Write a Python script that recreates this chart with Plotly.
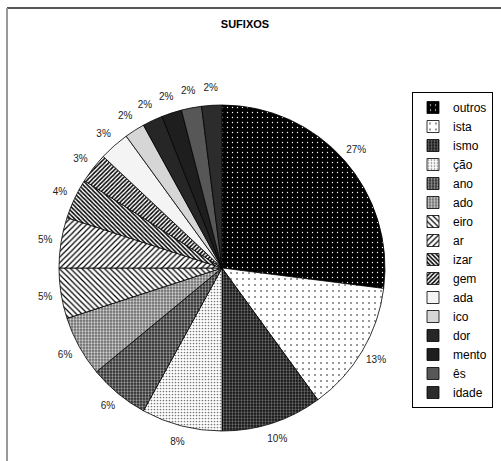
import plotly.graph_objects as go

labels = ["outros", "ista", "ismo", "ção", "ano", "ado", "eiro", "ar", "izar", "gem",
          "ada", "ico", "dor", "mento", "ês", "idade"]
values = [27, 13, 10, 8, 6, 6, 5, 5, 4, 3, 3, 2, 2, 2, 2, 2]

shapes_p = [".", ".", ".", ".", ".", ".", "\\", "/", "\\", "/", "", "", "", "", "", ""]
bgcols = ["#000000", "#ffffff", "#111111", "#ffffff", "#2a2a2a", "#6a6a6a", "#ffffff", "#ffffff",
          "#ffffff", "#ffffff", "#f4f4f4", "#d6d6d6", "#262626", "#1e1e1e", "#575757", "#2c2c2c"]
fgcols = ["#ffffff", "#000000", "#6a6a6a", "#777777", "#9a9a9a", "#d0d0d0", "#000000", "#000000",
          "#000000", "#000000", "#f4f4f4", "#d6d6d6", "#262626", "#1e1e1e", "#575757", "#2c2c2c"]
psize = [5, 6, 3, 3, 3, 3, 4, 4, 3, 3, 6, 6, 6, 6, 6, 6]
psolid = [0.06, 0.05, 0.45, 0.25, 0.45, 0.45, 0.3, 0.3, 0.5, 0.5, 0.3, 0.3, 0.3, 0.3, 0.3, 0.3]

W, H = 501, 461
cx, cy, r = 222, 268, 163
rl_out, rl_in = 192, 166

fig = go.Figure()
fig.add_trace(go.Pie(
    labels=labels, values=values, sort=False, direction="clockwise", rotation=0,
    textinfo="none", hoverinfo="label+percent",
    domain=dict(x=[(cx - r) / W, (cx + r) / W], y=[1 - (cy + r) / H, 1 - (cy - r) / H]),
    marker=dict(colors=bgcols, line=dict(color="#000000", width=0.8),
                pattern=dict(shape=shapes_p, bgcolor=bgcols, fgcolor=fgcols,
                             size=psize, solidity=psolid, fillmode="replace")),
))
fig.add_trace(go.Pie(
    labels=labels, values=values, sort=False, direction="clockwise", rotation=0,
    showlegend=False, hoverinfo="skip", hole=rl_in / rl_out,
    textinfo="percent", texttemplate="%{percent:.0%}", textposition="inside",
    insidetextorientation="horizontal",
    insidetextfont=dict(family="Liberation Sans, Arial", size=10, color="#222222"),
    domain=dict(x=[(cx - rl_out) / W, (cx + rl_out) / W],
                y=[max(0, 1 - (cy + rl_out) / H), 1 - (cy - rl_out) / H]),
    marker=dict(colors=["rgba(0,0,0,0)"] * len(labels), line=dict(width=0)),
))

fig.update_layout(
    width=W, height=H, margin=dict(l=0, r=0, t=0, b=0),
    paper_bgcolor="white", plot_bgcolor="white",
    font=dict(family="Liberation Sans, Arial", color="#000000"),
    uniformtext=dict(minsize=10, mode="show"),
    title=dict(text="<b>SUFIXOS</b>", x=245 / W, y=1 - 24 / H, xanchor="center", yanchor="middle",
               font=dict(size=11, family="Liberation Sans, Arial", color="#000000")),
    legend=dict(x=493 / W, y=1 - 92 / H, xanchor="right", yanchor="top",
                bordercolor="#000000", borderwidth=1, bgcolor="white",
                font=dict(size=12, family="Liberation Sans, Arial", color="#000000"),
                itemwidth=30, traceorder="normal"),
    shapes=[
        dict(type="line", xref="paper", yref="paper", x0=7 / W, x1=1, y0=1 - 8 / H, y1=1 - 8 / H,
             line=dict(color="#555555", width=2)),
        dict(type="line", xref="paper", yref="paper", x0=7 / W, x1=7 / W, y0=0, y1=1 - 8 / H,
             line=dict(color="#999999", width=2)),
    ],
)

fig.write_html("out.html")
